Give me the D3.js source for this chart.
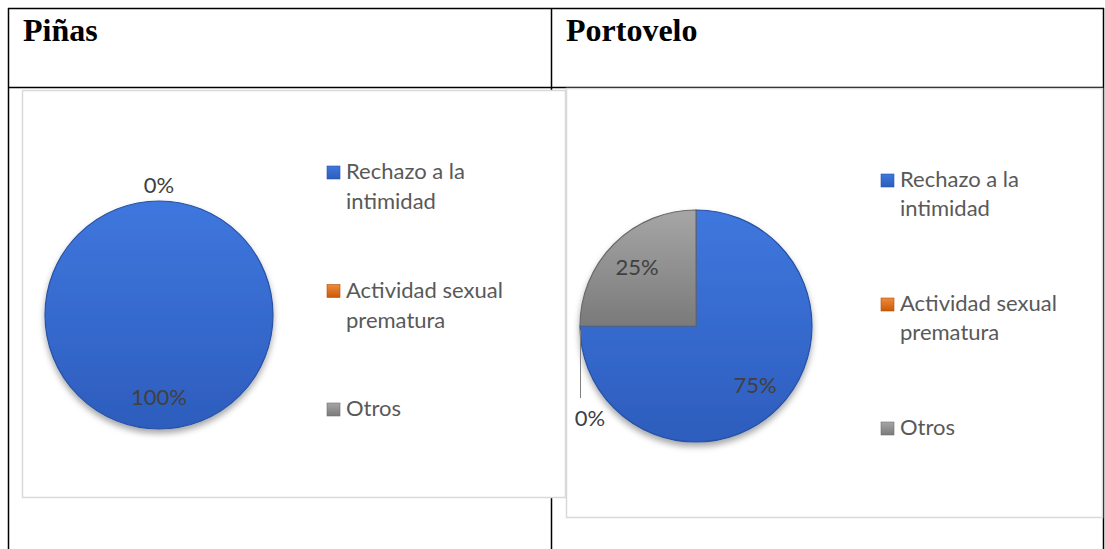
<!DOCTYPE html>
<html lang="es">
<head>
  <meta charset="UTF-8">
  <style>
    body { margin: 0; overflow: hidden; background: #fff; }
    svg { display: block; }
    .title { font-family: "Liberation Serif", "Times New Roman", serif; font-weight: bold; font-size: 32px; fill: #000; }
    .legend text { font-family: Lato, "Open Sans", sans-serif; font-size: 22px; fill: #595959; }
    .label { font-family: Lato, "Open Sans", sans-serif; font-size: 22px; fill: #404040; }
  </style>
  <script src="https://d3js.org/d3.v7.min.js"></script>
</head>
<body>
<svg id="chart"></svg>
<script>
  // data
  const regions = ["Piñas", "Portovelo"];
  const categories = ["Rechazo a la intimidad", "Actividad sexual prematura", "Otros"];
  const legendLines = [["Rechazo a la", "intimidad"], ["Actividad sexual", "prematura"], ["Otros"]];
  const pinasValues = [100, 0, 0];
  const portoveloValues = [75, 0, 25];

  const W = 1105, H = 549;
  const svg = d3.select("#chart").attr("width", W).attr("height", H);

  const colors = d3.scaleOrdinal()
    .domain(categories)
    .range([["#3f77de", "#2d5dbd"], ["#f08a3a", "#c85a0a"], ["#a6a6a6", "#7a7a7a"]]);

  const defs = svg.append("defs");
  categories.forEach((c, i) => {
    const g = defs.append("linearGradient").attr("id", "grad" + i)
      .attr("x1", 0).attr("y1", 0).attr("x2", 0).attr("y2", 1);
    g.append("stop").attr("offset", "0%").attr("stop-color", colors(c)[0]);
    g.append("stop").attr("offset", "100%").attr("stop-color", colors(c)[1]);
  });
  const shadow = defs.append("filter").attr("id", "shadow")
    .attr("x", "-20%").attr("y", "-20%").attr("width", "140%").attr("height", "140%");
  shadow.append("feDropShadow").attr("dx", 0).attr("dy", 4).attr("stdDeviation", 3)
    .attr("flood-color", "#000").attr("flood-opacity", 0.35);

  // table frame
  const table = svg.append("g").attr("stroke", "#000").attr("stroke-width", 1.5).attr("fill", "none");
  table.append("line").attr("x1", 8).attr("x2", 1104).attr("y1", 8.5).attr("y2", 8.5);
  table.append("line").attr("x1", 8).attr("x2", 1104).attr("y1", 87.5).attr("y2", 87.5);
  [8.5, 551.5, 1103.5].forEach(x => {
    table.append("line").attr("x1", x).attr("x2", x).attr("y1", 8).attr("y2", H);
  });

  svg.selectAll(".title").data(regions).join("text")
    .attr("class", "title")
    .attr("x", (d, i) => i === 0 ? 23 : 566)
    .attr("y", 41)
    .text(d => d);

  const charts = [
    { values: pinasValues, box: [22.5, 90.5, 543, 407], cx: 159, cy: 315, r: 114,
      legendX: 327, legendY: 179, itemGap: 118.5, lineH: 30, zeroLeader: false },
    { values: portoveloValues, box: [566.5, 88.5, 536, 429], cx: 696, cy: 326, r: 116,
      legendX: 881, legendY: 187, itemGap: 124, lineH: 28.5, zeroLeader: true }
  ];

  const pie = d3.pie().sort(null).value(d => d.value);

  charts.forEach(ch => {
    svg.append("rect")
      .attr("x", ch.box[0]).attr("y", ch.box[1])
      .attr("width", ch.box[2]).attr("height", ch.box[3])
      .attr("fill", "#fff").attr("stroke", "#d9d9d9").attr("stroke-width", 1.5);

    const data = categories.map((c, i) => ({ cat: c, i: i, value: ch.values[i] }));
    const arcs = pie(data);
    const arc = d3.arc().innerRadius(0).outerRadius(ch.r);
    const labelArc = d3.arc().innerRadius(ch.r * 0.72).outerRadius(ch.r * 0.72);
    const outArc = d3.arc().innerRadius(ch.r + 16).outerRadius(ch.r + 16);

    const g = svg.append("g").attr("transform", `translate(${ch.cx},${ch.cy})`);
    g.append("g").attr("filter", "url(#shadow)")
      .selectAll("path").data(arcs.filter(a => a.data.value > 0)).join("path")
      .attr("d", arc)
      .attr("fill", d => `url(#grad${d.data.i})`)
      .attr("stroke", d => d3.color(colors(d.data.cat)[1]).darker(0.4))
      .attr("stroke-width", 1.2);

    // labels
    const seen = new Set();
    arcs.forEach(a => {
      const v = a.data.value;
      if (v > 0) {
        const [x, y] = labelArc.centroid(a);
        g.append("text").attr("class", "label")
          .attr("x", x).attr("y", y).attr("dy", "0.35em")
          .attr("text-anchor", "middle").text(v + "%");
      } else {
        let [x, y] = outArc.centroid(a);
        const key = Math.round(x) + "," + Math.round(y);
        if (seen.has(key)) return;
        seen.add(key);
        if (ch.zeroLeader) {
          const ax = -ch.r + 0.5;
          g.append("line").attr("x1", ax).attr("x2", ax)
            .attr("y1", 4).attr("y2", 72)
            .attr("stroke", "#7f7f7f").attr("stroke-width", 1);
          x = -ch.r + 10; y = 92;
        }
        g.append("text").attr("class", "label")
          .attr("x", x).attr("y", y).attr("dy", "0.35em")
          .attr("text-anchor", "middle").text(v + "%");
      }
    });

    // legend
    const lg = svg.append("g").attr("class", "legend");
    legendLines.forEach((lines, i) => {
      const by = ch.legendY + i * ch.itemGap;
      lg.append("rect")
        .attr("x", ch.legendX).attr("y", by - 13)
        .attr("width", 13).attr("height", 13)
        .attr("fill", `url(#grad${i})`)
        .attr("stroke", d3.color(colors(categories[i])[1]).darker(0.3)).attr("stroke-width", 0.6);
      const t = lg.append("text").attr("x", ch.legendX + 19).attr("y", by);
      lines.forEach((ln, j) => {
        t.append("tspan").attr("x", ch.legendX + 19).attr("y", by + j * ch.lineH).text(ln);
      });
    });
  });
</script>
</body>
</html>
